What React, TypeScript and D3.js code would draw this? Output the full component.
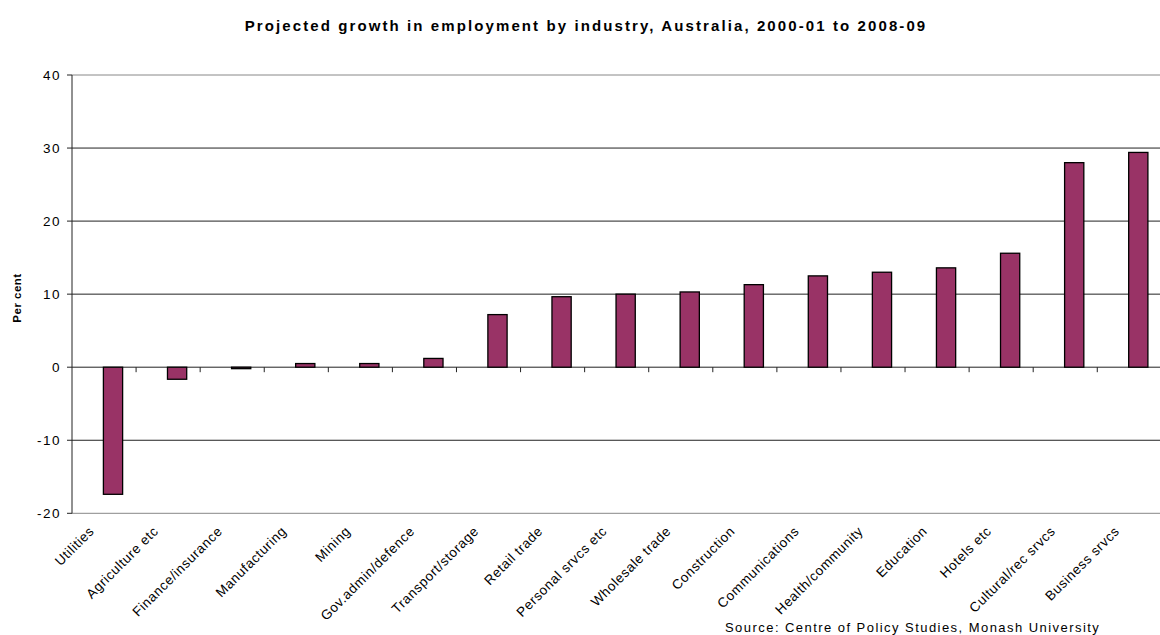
import React from "react";
import * as d3 from "d3";

const categories = [
  "Utilities", "Agriculture etc", "Finance/insurance", "Manufacturing", "Mining",
  "Gov.admin/defence", "Transport/storage", "Retail trade", "Personal srvcs etc",
  "Wholesale trade", "Construction", "Communications", "Health/community",
  "Education", "Hotels etc", "Cultural/rec srvcs", "Business srvcs",
];
const values = [-17.4, -1.65, -0.2, 0.5, 0.5, 1.2, 7.2, 9.65, 10.0, 10.3, 11.3, 12.5, 13.0, 13.6, 15.6, 28.0, 29.4];
const yTicks = [-20, -10, 0, 10, 20, 30, 40];
const title = "Projected growth in employment by industry, Australia, 2000-01 to 2008-09";
const yTitle = "Per cent";
const source = "Source: Centre of Policy Studies, Monash University";

export default function App() {
  const W = 1160, H = 635;
  const left = 72, top = 75, bottom = 513.3;
  const right = left + 17 * 64.08;
  const x = d3.scaleBand<string>().domain(categories).range([left, right]).paddingInner(0).paddingOuter(0);
  const y = d3.scaleLinear().domain([-20, 40]).range([bottom, top]);
  const bw = x.bandwidth();
  const font = "'Liberation Sans', Arial, sans-serif";
  const y0 = y(0);
  return (
    <svg width={W} height={H} style={{ position: "absolute", left: 0, top: 0, background: "#fff" }} fontFamily={font}>
      <rect x={0} y={0} width={W} height={H} fill="#fff" />
      <text x={586} y={31} textAnchor="middle" fontSize={15} fontWeight="bold" letterSpacing={2.1}>{title}</text>
      {yTicks.map((t) => (
        <g key={t}>
          <line x1={left} x2={W} y1={y(t)} y2={y(t)} stroke={t === 40 || t === -20 ? "#888" : "#222"} strokeWidth={1} />
          <line x1={left - 5} x2={left} y1={y(t)} y2={y(t)} stroke="#222" />
          <text x={left - 11} y={y(t) + 4.5} textAnchor="end" fontSize={13.5} letterSpacing={1.5}>{t}</text>
        </g>
      ))}
      <line x1={left} x2={left} y1={top} y2={bottom} stroke="#222" />
      {categories.map((c, i) => (
        <line key={"tk" + i} x1={(x(c) as number) + bw} x2={(x(c) as number) + bw} y1={y0} y2={y0 + 5} stroke="#222" />
      ))}
      {categories.map((c, i) => {
        const v = values[i];
        const bx = (x(c) as number) + bw * 0.49;
        const h = Math.abs(y(v) - y0);
        return (
          <rect key={"b" + i} x={bx} y={Math.min(y(v), y0)} width={bw * 0.3} height={Math.max(h, 1)}
            fill="#993366" stroke="#000" strokeWidth={1.3} />
        );
      })}
      {categories.map((c, i) => {
        const cx = (x(c) as number) + bw / 2 - 9;
        const cy = 532;
        return (
          <text key={"l" + i} x={cx} y={cy} textAnchor="end" fontSize={13.5} letterSpacing={0.6} transform={`rotate(-45 ${cx} ${cy})`}>{c}</text>
        );
      })}
      <text transform={`translate(21 ${298}) rotate(-90)`} textAnchor="middle" fontSize={11.5} fontWeight="bold" letterSpacing={0.5}>{yTitle}</text>
      <text x={725} y={632} fontSize={13} letterSpacing={1.45}>{source}</text>
    </svg>
  );
}
